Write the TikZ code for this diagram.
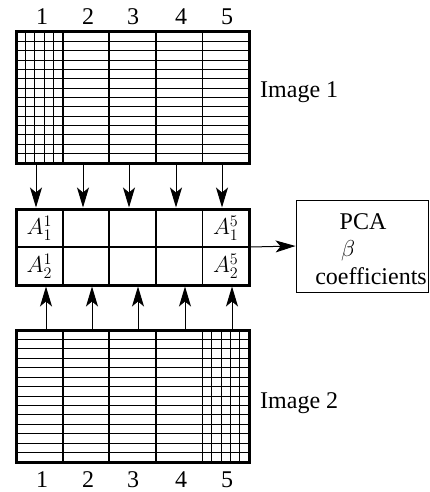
\RequirePackage{fix-cm}
\documentclass[tikz,border=0pt]{standalone}
\usepackage{fontspec}
\setmainfont{Liberation Serif}
\usetikzlibrary{arrows.meta}
\begin{document}
\begin{tikzpicture}[x=1pt,y=-1pt,
  txt/.style={font=\fontsize{24}{28}\selectfont, inner sep=0pt},
  mtxt/.style={font=\fontsize{23}{27}\selectfont, inner sep=0pt},
  frame/.style={draw, line width=3pt, inner sep=0pt, minimum width=233pt},
  gridline/.style={line width=0.9pt},
  colline/.style={line width=1.8pt},
  cellbox/.style={draw, line width=1.8pt, inner sep=0pt, minimum width=46.6pt, minimum height=38pt},
  arr/.style={line width=1pt, -{Stealth[length=20pt,width=12pt,inset=5pt]}},
]
\useasboundingbox (0,0) rectangle (430,492);
% ---------- Image 1 ----------
\foreach \i in {1,...,13} \draw[gridline] (16,{32+\i*131/14}) -- (249,{32+\i*131/14});
\foreach \k in {1,...,4} \draw[gridline] ({16+\k*9.4},32) -- ({16+\k*9.4},163);
\foreach \xx in {62.6,109.2,155.8,202.4} \draw[colline] (\xx,32) -- (\xx,163);
\node[frame, minimum height=131pt] (img1) at (132.5,97.5) {};
% ---------- Image 2 ----------
\foreach \i in {1,...,13} \draw[gridline] (16,{330+\i*132/14}) -- (249,{330+\i*132/14});
\foreach \k in {1,...,4} \draw[gridline] ({202.4+\k*9.32},330) -- ({202.4+\k*9.32},462);
\foreach \xx in {62.6,109.2,155.8,202.4} \draw[colline] (\xx,330) -- (\xx,462);
\node[frame, minimum height=132pt] (img2) at (132.5,396) {};
% ---------- Table ----------
\foreach \c in {1,...,5} {
  \node[cellbox] (ta\c) at ({16+(\c-0.5)*46.6},228) {};
  \node[cellbox] (tb\c) at ({16+(\c-0.5)*46.6},266) {};
}
\node[frame, minimum height=76pt] (tab) at (132.5,247) {};
\node[mtxt] (a11) at (ta1) {$A_1^1$};
\node[mtxt] (a21) at (tb1) {$A_2^1$};
\node[mtxt] (a15) at (ta5) {$A_1^5$};
\node[mtxt] (a25) at (tb5) {$A_2^5$};
% ---------- PCA box ----------
\node[draw, line width=0.9pt, minimum width=132pt, minimum height=92pt, inner sep=0pt] (pca) at (362,246) {};
\node[txt] (pcat) at (363,222) {PCA};
\node[mtxt] (beta) at (348,251) {$\beta$};
\node[txt] (coef) at (371,276) {coefficients};
% ---------- labels ----------
\node[txt, anchor=west] (lab1) at (260,92) {Image 1};
\node[txt, anchor=west] (lab2) at (260,403) {Image 2};
\foreach \n/\xx in {1/42,2/88,3/133,4/181,5/227} {
  \node[txt] (nt\n) at (\xx,17) {\n};
  \node[txt] (nb\n) at (\xx,480) {\n};
}
% ---------- arrows ----------
\foreach \n/\xx in {1/36,2/83,3/129,4/176,5/222} {
  \coordinate (ua\n) at (\xx,0);
  \draw[arr] (img1.south -| ua\n) -- (tab.north -| ua\n);
}
\foreach \n/\xx in {1/46,2/92,3/138,4/185,5/232} {
  \coordinate (ub\n) at (\xx,0);
  \draw[arr] (img2.north -| ub\n) -- (tab.south -| ub\n);
}
\draw[arr] (tab.east) -- (pca.west);
\end{tikzpicture}
\end{document}
